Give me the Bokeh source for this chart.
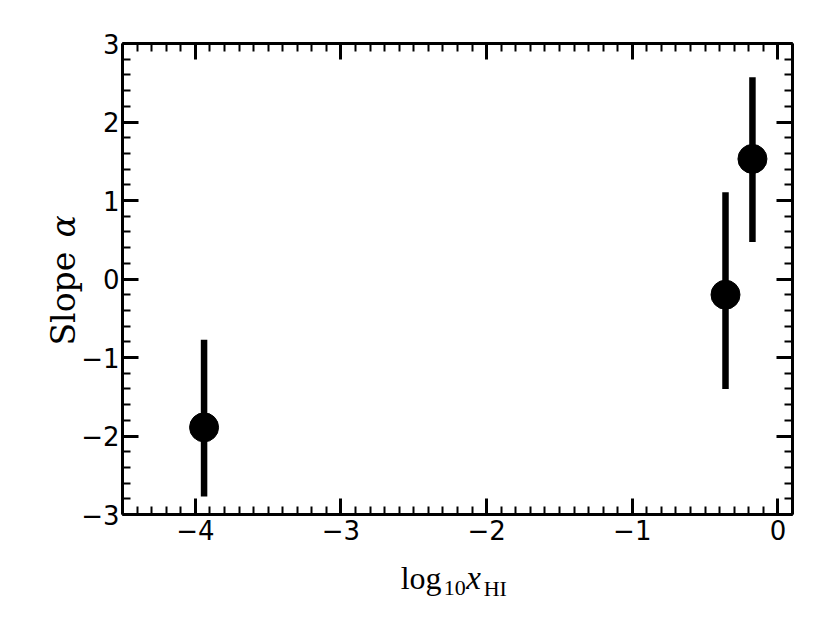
import math
from bokeh.plotting import figure
from bokeh.models import Range1d, LinearAxis, FixedTicker
from bokeh.core.properties import value
from bokeh.embed import file_html
from bokeh.resources import INLINE

# Data
x_vals = [-3.94, -0.36, -0.175]
y_vals = [-1.89, -0.20, 1.53]
y_lo = [-2.77, -1.40, 0.47]
y_hi = [-0.775, 1.105, 2.57]

x_ticks = [-4, -3, -2, -1, 0]
x_tick_labels = ["\u22124", "\u22123", "\u22122", "\u22121", "0"]
y_ticks = [-3, -2, -1, 0, 1, 2, 3]
y_tick_labels = ["\u22123", "\u22122", "\u22121", "0", "1", "2", "3"]
x_minor = [round(-4.5 + 0.1 * i, 2) for i in range(47)]
y_minor = [round(-3 + 0.2 * i, 2) for i in range(31)]

# axis label pieces (text, font size, style)
xlabel_parts = [("log", "32px", "normal"), ("10", "22px", "normal"),
                ("x", "33px", "italic"), ("HI", "22px", "normal")]
ylabel_parts = [("Slope", "33px", "normal"), ("\u03b1", "33px", "italic")]

p = figure(width=822, height=615, output_backend="svg", toolbar_location=None,
           x_range=Range1d(-4.5, 0.1), y_range=Range1d(-3, 3),
           min_border_left=122, min_border_right=30, min_border_top=43, min_border_bottom=101)
p.outline_line_color = None
p.xgrid.visible = False
p.ygrid.visible = False
p.background_fill_color = "white"

def style(ax, ticks, minor, labels=None, show=True):
    ax.ticker = FixedTicker(ticks=ticks, minor_ticks=minor)
    ax.axis_line_width = 3
    ax.axis_line_color = "black"
    ax.major_tick_in = 16
    ax.major_tick_out = 0
    ax.minor_tick_in = 8
    ax.minor_tick_out = 0
    ax.major_tick_line_width = 3
    ax.minor_tick_line_width = 2
    ax.major_tick_line_color = "black"
    ax.minor_tick_line_color = "black"
    if show:
        ax.major_label_overrides = {t: l for t, l in zip(ticks, labels)}
        ax.major_label_text_font = "DejaVu Sans"
        ax.major_label_text_font_size = "26px"
        ax.major_label_text_color = "black"
    else:
        ax.major_label_text_font_size = "0px"
        ax.major_label_text_color = None

xa = p.xaxis[0]
style(xa, x_ticks, x_minor, x_tick_labels)
xa.major_label_standoff = 5

ya = p.yaxis[0]
style(ya, y_ticks, y_minor, y_tick_labels)
ya.major_label_standoff = 3

top = LinearAxis()
style(top, x_ticks, x_minor, show=False)
p.add_layout(top, "above")
right = LinearAxis()
style(right, y_ticks, y_minor, show=False)
p.add_layout(right, "right")

# error bars and points
p.segment(x0=x_vals, y0=y_lo, x1=x_vals, y1=y_hi, line_width=6.5, line_color="black")
p.scatter(x=x_vals, y=y_vals, size=29, fill_color="black", line_color="black")

def txt(t, x, y, font, fs, st, angle=0.0):
    r = p.text(x=[x], y=[y], text=[t], text_font=value(font), text_font_size=fs,
               text_font_style=st, text_color="black", text_baseline="alphabetic",
               text_align="left", angle=angle)
    r.level = "overlay"

# x axis label: log10 x_HI (positions below the frame)
x_pos = [-2.59, -2.295, -2.14, -2.02]
y_pos = [-3.815, -3.94, -3.815, -3.94]
for (t, fs, st), xx, yy in zip(xlabel_parts, x_pos, y_pos):
    txt(t, xx, yy, "Liberation Serif", fs, st)

# y axis label: Slope alpha (rotated, left of the frame)
yl_pos = [-0.847, 0.53]
for (t, fs, st), yy in zip(ylabel_parts, yl_pos):
    txt(t, -4.905, yy, "DejaVu Serif", fs, st, math.pi / 2)

open("out.html", "w").write(file_html(p, INLINE))
